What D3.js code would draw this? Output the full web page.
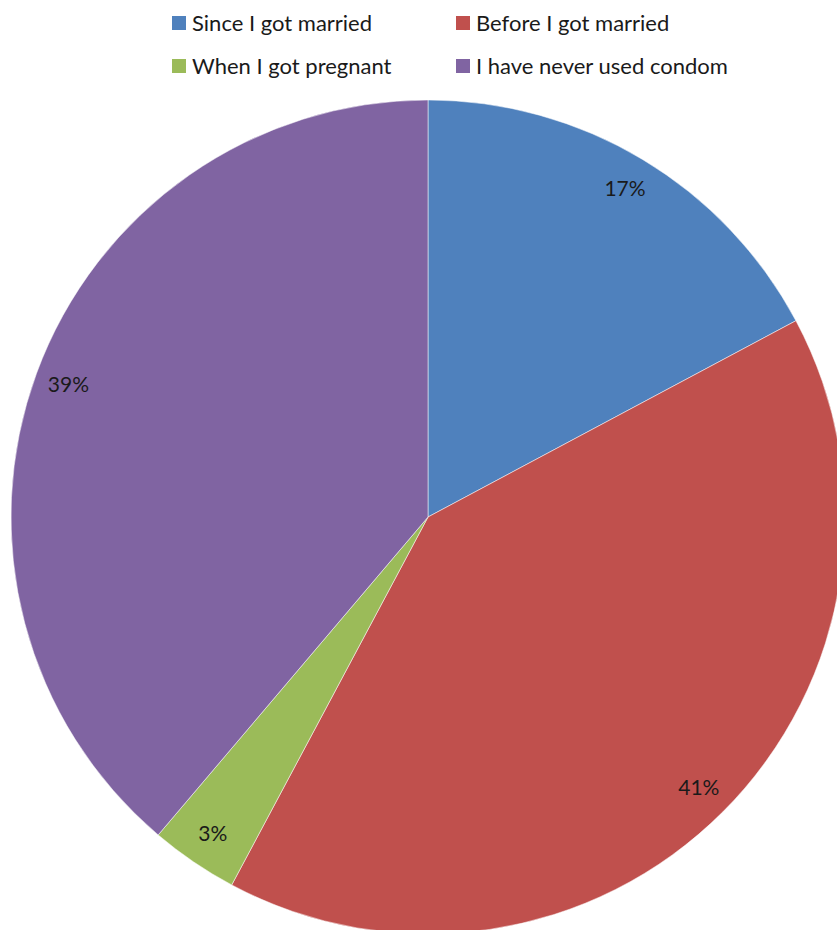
<!DOCTYPE html>
<html><head><meta charset="utf-8">
<script src="https://cdn.jsdelivr.net/npm/d3@7"></script>
<style>body{margin:0;background:#fff}svg{display:block}</style>
</head><body>
<script>
const categories = ["Since I got married","Before I got married","When I got pregnant","I have never used condom"];
const values = [17.2, 40.6, 3.4, 38.8];
const labels = ["17%","41%","3%","39%"];
const colors = ["#4F81BD","#C0504D","#9BBB59","#8064A2"];

const W = 837, H = 930;
const svg = d3.select("body").append("svg").attr("width", W).attr("height", H);
const cx = 428, cy = 517, r = 417;
const pie = d3.pie().sort(null).value(d => d)(values);
const arc = d3.arc().innerRadius(0).outerRadius(r);
const labelArc = d3.arc().innerRadius(383).outerRadius(383);
const g = svg.append("g").attr("transform", `translate(${cx},${cy})`);
g.selectAll("path").data(pie).join("path")
  .attr("d", arc).attr("fill", (d,i) => colors[i])
  .attr("stroke", "rgba(255,255,255,0.5)").attr("stroke-width", 1);
g.selectAll("text").data(pie).join("text")
  .attr("transform", d => `translate(${labelArc.centroid(d)})`)
  .attr("text-anchor", "middle").attr("dy", "0.35em")
  .attr("font-family", "Lato, 'Open Sans', sans-serif").attr("font-size", 21)
  .attr("fill", "#1a1a1a").text((d,i) => labels[i]);

const legPos = [[172,16],[456,16],[172,59],[456,59]];
const leg = svg.append("g");
categories.forEach((c,i) => {
  const [x,y] = legPos[i];
  leg.append("rect").attr("x", x).attr("y", y).attr("width", 14).attr("height", 14).attr("fill", colors[i]);
  leg.append("text").attr("x", x + 20).attr("y", y + 14.5)
    .attr("font-family", "Lato, 'Open Sans', sans-serif").attr("font-size", 22)
    .attr("fill", "#1a1a1a").text(c);
});
</script>
</body></html>
